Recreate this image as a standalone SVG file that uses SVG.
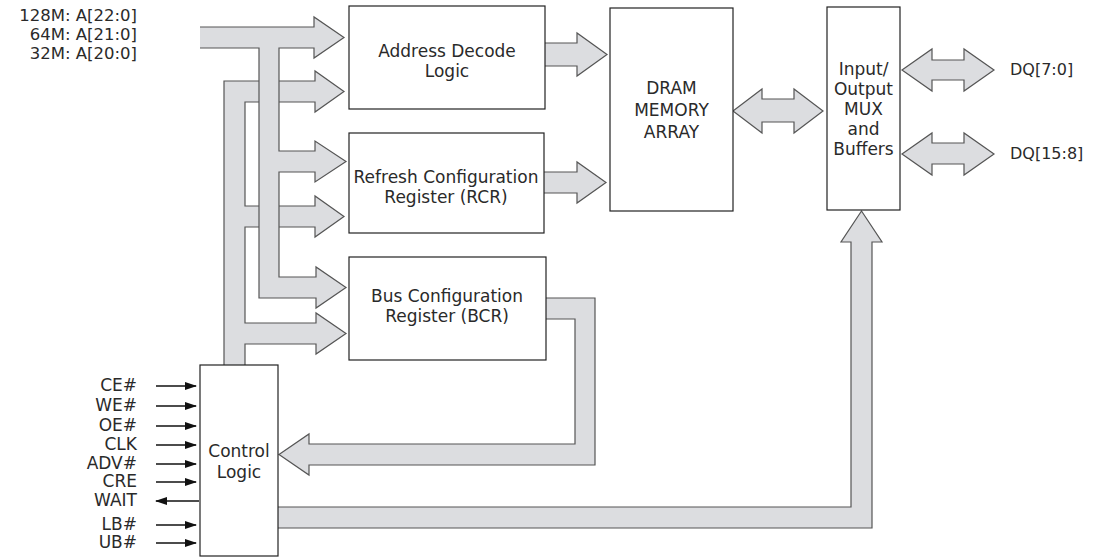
<svg xmlns="http://www.w3.org/2000/svg" width="1097" height="558" viewBox="0 0 1097 558">
<style>
.bus{fill:#dcdde0;stroke:#555;stroke-width:1.2;stroke-linejoin:miter}
.box{fill:#fff;stroke:#222;stroke-width:1.2}
text{font-family:"DejaVu Sans",sans-serif;fill:#2a2a2a}
.t{font-size:17px;text-anchor:middle}
.lbl{font-size:16px;text-anchor:end}
.sig{stroke:#111;stroke-width:1.3;fill:none}
</style>
<defs>
<marker id="ah" markerWidth="12" markerHeight="10" refX="11" refY="5" orient="auto" markerUnits="userSpaceOnUse">
<path d="M0,1 L12,5 L0,9 Z" fill="#111"/>
</marker>
</defs>
<g id="connectors">
<path class="bus" d="M245,366 L245,344 L316,344 L316,354 L346,333.5 L316,313 L316,323 L245,323 L245,227 L315,227 L315,237 L344,216.5 L315,196 L315,206 L245,206 L245,102 L315,102 L315,112 L344,91.5 L315,71 L315,81 L224,81 L224,366"/>
<path class="bus" d="M200,48 L259,48 L259,298 L316,298 L316,308 L346,287.5 L316,267 L316,277 L279,277 L279,172 L315,172 L315,182 L346,161.5 L315,141 L315,151 L279,151 L279,48 L314,48 L314,58 L344,37.5 L314,17 L314,27 L200,27"/>
<path class="bus" d="M545,43 L577,43 L577,33 L607,54.5 L577,76 L577,66 L545,66"/>
<path class="bus" d="M544,172 L577,172 L577,162 L606,182.5 L577,203 L577,193 L544,193"/>
<path class="bus" d="M733,111 L762,89 L762,99 L794,99 L794,89 L823,111 L794,133 L794,122 L762,122 L762,133 Z"/>
<path class="bus" d="M902,70 L932,49 L932,60 L964,60 L964,49 L994,70 L964,91 L964,80 L932,80 L932,91 Z"/>
<path class="bus" d="M902,154 L932,133 L932,143 L964,143 L964,133 L994,154 L964,175 L964,164 L932,164 L932,175 Z"/>
<path class="bus" d="M546,298 L595,298 L595,465 L309,465 L309,475 L279,454.5 L309,434 L309,444 L575,444 L575,319 L546,319"/>
<path class="bus" d="M278,507 L851,507 L851,242 L841,242 L861.5,211 L882,242 L872,242 L872,528 L278,528"/>
<line class="sig" x1="156" y1="386" x2="196" y2="386" marker-end="url(#ah)"/>
<line class="sig" x1="156" y1="406" x2="196" y2="406" marker-end="url(#ah)"/>
<line class="sig" x1="156" y1="426" x2="196" y2="426" marker-end="url(#ah)"/>
<line class="sig" x1="156" y1="445" x2="196" y2="445" marker-end="url(#ah)"/>
<line class="sig" x1="156" y1="464" x2="196" y2="464" marker-end="url(#ah)"/>
<line class="sig" x1="156" y1="482" x2="196" y2="482" marker-end="url(#ah)"/>
<line class="sig" x1="199" y1="501" x2="156" y2="501" marker-end="url(#ah)"/>
<line class="sig" x1="156" y1="525" x2="196" y2="525" marker-end="url(#ah)"/>
<line class="sig" x1="156" y1="543" x2="196" y2="543" marker-end="url(#ah)"/>
</g>
<g id="addr-labels">
<text class="lbl" x="137" y="21" style="font-size:16.5px">128M: A[22:0]</text>
<text class="lbl" x="137" y="40" style="font-size:16.5px">64M: A[21:0]</text>
<text class="lbl" x="137" y="59" style="font-size:16.5px">32M: A[20:0]</text>
</g>
<g id="address-decode">
<rect class="box" x="349" y="6" width="196" height="103"/>
<text class="t" x="447" y="57">Address Decode</text>
<text class="t" x="447" y="77">Logic</text>
</g>
<g id="rcr">
<rect class="box" x="349" y="133" width="195" height="100"/>
<text class="t" x="446" y="183">Refresh Configuration</text>
<text class="t" x="446" y="203">Register (RCR)</text>
</g>
<g id="bcr">
<rect class="box" x="349" y="257" width="197" height="103"/>
<text class="t" x="447" y="302">Bus Configuration</text>
<text class="t" x="447" y="322">Register (BCR)</text>
</g>
<g id="dram">
<rect class="box" x="610" y="8" width="123" height="203"/>
<text class="t" x="671.5" y="94">DRAM</text>
<text class="t" x="671.5" y="116">MEMORY</text>
<text class="t" x="671.5" y="138">ARRAY</text>
</g>
<g id="io-mux">
<rect class="box" x="827" y="7" width="73" height="203"/>
<text class="t" x="863.5" y="75">Input/</text>
<text class="t" x="863.5" y="95">Output</text>
<text class="t" x="863.5" y="115">MUX</text>
<text class="t" x="863.5" y="135">and</text>
<text class="t" x="863.5" y="155">Buffers</text>
</g>
<g id="dq-labels">
<text x="1010" y="75" style="font-size:16px">DQ[7:0]</text>
<text x="1010" y="159" style="font-size:16px">DQ[15:8]</text>
</g>
<g id="control-logic">
<rect class="box" x="200" y="365" width="78" height="191"/>
<text class="t" x="239" y="457">Control</text>
<text class="t" x="239" y="478">Logic</text>
</g>
<g id="signal-labels">
<text class="lbl" x="137" y="391" style="font-size:17px">CE#</text>
<text class="lbl" x="137" y="411" style="font-size:17px">WE#</text>
<text class="lbl" x="137" y="431" style="font-size:17px">OE#</text>
<text class="lbl" x="137" y="450" style="font-size:17px">CLK</text>
<text class="lbl" x="137" y="469" style="font-size:17px">ADV#</text>
<text class="lbl" x="137" y="487" style="font-size:17px">CRE</text>
<text class="lbl" x="137" y="506" style="font-size:17px">WAIT</text>
<text class="lbl" x="137" y="530" style="font-size:17px">LB#</text>
<text class="lbl" x="137" y="548" style="font-size:17px">UB#</text>
</g>
</svg>
